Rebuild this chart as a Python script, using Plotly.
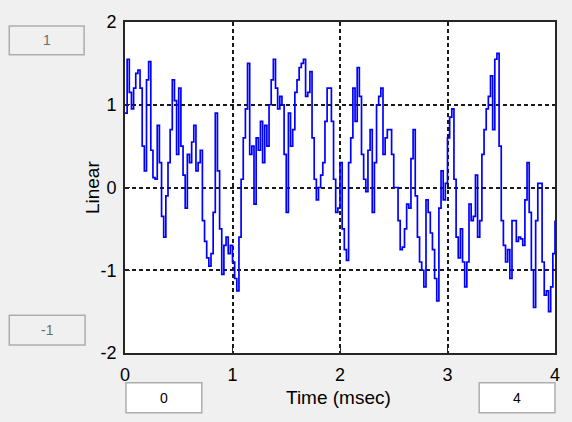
import plotly.graph_objects as go

# ---- data ----
dt = 0.02
signal = [
    0.90, 1.55, 1.15, 0.95, 1.20, 1.38, 1.42, 1.20, 0.50, 0.20,
    1.30, 1.52, 0.45, 0.12, 0.10, 0.75, 0.30, -0.35, -0.60, -0.10,
    0.30, 0.70, 1.30, 1.05, 0.40, 1.20, 0.50, 0.15, -0.25, 0.40,
    0.30, 0.55, 0.75, 0.20, 0.30, 0.45, -0.40, -0.65, -0.85, -0.95,
    -0.80, -0.30, 0.90, 0.20, -0.50, -1.05, -0.70, -0.60, -0.80, -0.70,
    -0.90, -1.10, -1.25, -0.60, 0.10, 0.60, 0.95, 1.50, 0.40, 0.50,
    -0.20, 0.60, 0.45, 0.80, 0.30, 0.75, 0.50, 1.00, 1.30, 1.55,
    1.20, 0.95, 1.10, 1.00, 0.40, -0.30, 0.90, 0.50, 0.70, 1.15,
    1.30, 1.45, 1.50, 1.55, 1.10, 1.15, 1.40, 0.60, 0.10, -0.15,
    0.00, 0.15, 0.30, 0.80, 1.20, 1.20, 0.80, 0.10, -0.30, -0.25,
    0.30, -0.50, -0.75, -0.88, 0.30, 0.60, 1.20, 0.80, 1.45, 1.10,
    0.40, 0.10, -0.05, 0.45, 0.70, -0.30, 0.30, 1.00, 1.10, 1.20,
    0.40, 0.60, 0.70, 0.70, 0.40, 0.00, 0.00, -0.40, -0.75, -0.72,
    -0.50, -0.20, -0.25, 0.35, 0.70, -0.10, -0.60, -0.90, -1.00, -1.20,
    -0.15, -0.30, -0.55, -0.75, -1.10, -1.37, -0.25, 0.20, -0.15, 0.05,
    0.60, 0.85, 0.95, 0.10, -0.60, -0.85, -0.50, -0.90, -1.20, -0.90,
    -0.20, -0.40, -0.35, 0.15, -0.60, -0.40, 0.40, 0.70, 0.95, 1.10,
    1.35, 0.70, 1.55, 1.62, 0.50, -0.40, -0.70, -0.90, -0.75, -1.10,
    -0.40, -0.40, -0.65, -0.60, -0.62, -0.70, -0.15, 0.30, -0.30, -1.00,
    -1.45, -0.40, 0.05, 0.05, -0.90, -1.30, -1.25, -1.50, -1.20, -0.80,
    -0.40,
]
time_ms = [round(i * dt, 4) for i in range(len(signal))]

x_ticks = [0, 1, 2, 3, 4]
y_ticks = [-2, -1, 0, 1, 2]
x_title = "Time (msec)"
y_title = "Linear"
box_labels = {"ymax": "1", "ymin": "-1", "xmin": "0", "xmax": "4"}

# ---- layout geometry (pixels) ----
W, H = 572, 422
L, R, T, B = 125, 556, 20, 353
FONT = "Liberation Sans, Arial, sans-serif"


def px(x):
    return (x - L) / (R - L)


def py(y):
    return (B - y) / (B - T)


fig = go.Figure()
fig.add_trace(go.Scatter(
    x=time_ms, y=signal, mode="lines",
    line=dict(color="#0000ff", width=1.7, shape="hv"),
    hoverinfo="skip", showlegend=False,
))

axis_common = dict(
    showline=True, linecolor="#262626", linewidth=1.8, mirror=True,
    ticks="inside", ticklen=5, tickcolor="#262626", tickwidth=1,
    showgrid=True, gridcolor="#1a1a1a", gridwidth=1.8, griddash="4px,3px",
    zeroline=False, tickfont=dict(family=FONT, size=18, color="#000000"),
)

fig.update_xaxes(range=[0, 4], tickvals=x_ticks, ticktext=[str(v) for v in x_ticks],
                 ticklabelstandoff=4, **axis_common)
fig.update_yaxes(range=[-2, 2], tickvals=y_ticks, ticktext=[str(v) for v in y_ticks],
                 ticklabelstandoff=3, **axis_common)

shapes = []
annotations = []


def add_box(x0, y0, x1, y1, text, fill, textcolor):
    shapes.append(dict(type="rect", xref="paper", yref="paper",
                       x0=px(x0), x1=px(x1), y0=py(y1), y1=py(y0),
                       line=dict(color="#adadad", width=1.5), fillcolor=fill,
                       layer="above"))
    annotations.append(dict(xref="paper", yref="paper",
                            x=px((x0 + x1) / 2), y=py((y0 + y1) / 2),
                            text=text, showarrow=False, xanchor="center", yanchor="middle",
                            font=dict(family=FONT, size=14, color=textcolor)))


add_box(9, 24, 84, 53, box_labels["ymax"], "#f0f0f0", "#6d6d6d")
add_box(9, 315, 85, 345, box_labels["ymin"], "#f0f0f0", "#6d6d6d")
add_box(126, 383, 202, 413, box_labels["xmin"], "#ffffff", "#000000")
add_box(480, 383, 556, 413, box_labels["xmax"], "#ffffff", "#000000")

annotations.append(dict(xref="paper", yref="paper", x=px(338.5), y=py(398),
                        text=x_title, showarrow=False, xanchor="center", yanchor="middle",
                        font=dict(family=FONT, size=19, color="#000000")))
annotations.append(dict(xref="paper", yref="paper", x=px(93), y=py(187),
                        text=y_title, showarrow=False, xanchor="center", yanchor="middle",
                        textangle=-90,
                        font=dict(family=FONT, size=19, color="#000000")))

fig.update_layout(
    width=W, height=H,
    margin=dict(l=L, r=W - R, t=T, b=H - B, pad=0),
    paper_bgcolor="#f0f0f0", plot_bgcolor="#ffffff",
    shapes=shapes, annotations=annotations,
    showlegend=False,
)

fig.write_html(
    "out.html",
    config={"displayModeBar": False},
    post_script="document.body.style.margin='0';document.body.style.background='#f0f0f0';",
)
